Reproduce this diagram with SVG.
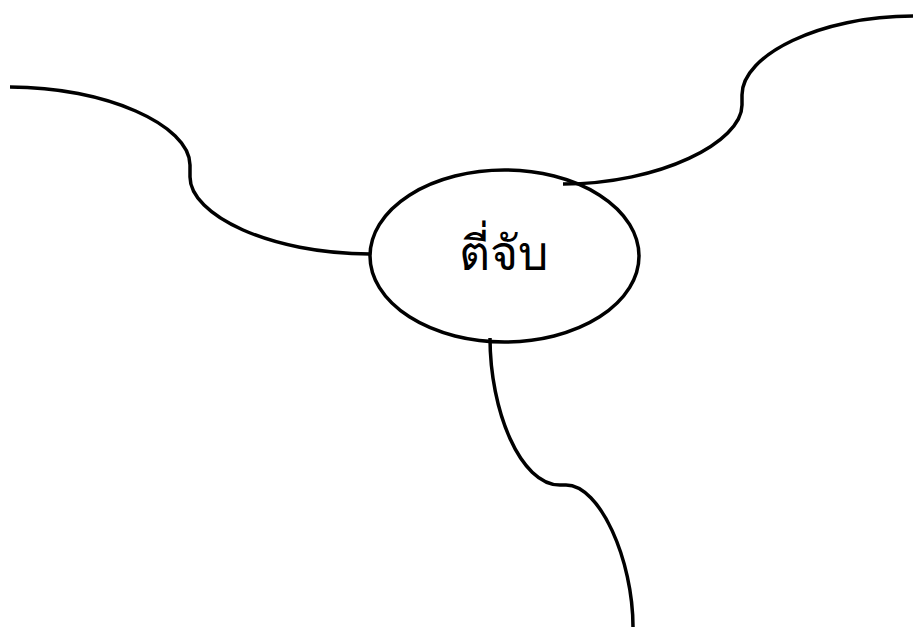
<svg xmlns="http://www.w3.org/2000/svg" width="913" height="627" viewBox="0 0 913 627">
<style>
.edge{fill:none;stroke:#000;stroke-width:3.5}
.node{fill:#fff;stroke:#000;stroke-width:3.5}
.label{font-family:"Liberation Serif","Noto Serif","Noto Sans",serif;font-size:48px;fill:#000}
</style>
<rect width="913" height="627" fill="#fff"/>
<g id="node-center">
<ellipse class="node" cx="504.5" cy="256" rx="134.5" ry="86"/>
<text class="label" x="503" y="270" text-anchor="middle">ตี่จับ</text>
</g>
<g id="connectors">
<path class="edge" d="M10,87 C105,87 190,125 190,165 L190,177 C190,215 270,254 370,254"/>
<path class="edge" d="M563,184 C660,184 742,142 742,105 L742,95 C742,55 820,16 913,16"/>
<path class="edge" d="M490,338 C490,410 520,485 560,485 L566,485 C600,485 633,560 633,627"/>
</g>
</svg>
